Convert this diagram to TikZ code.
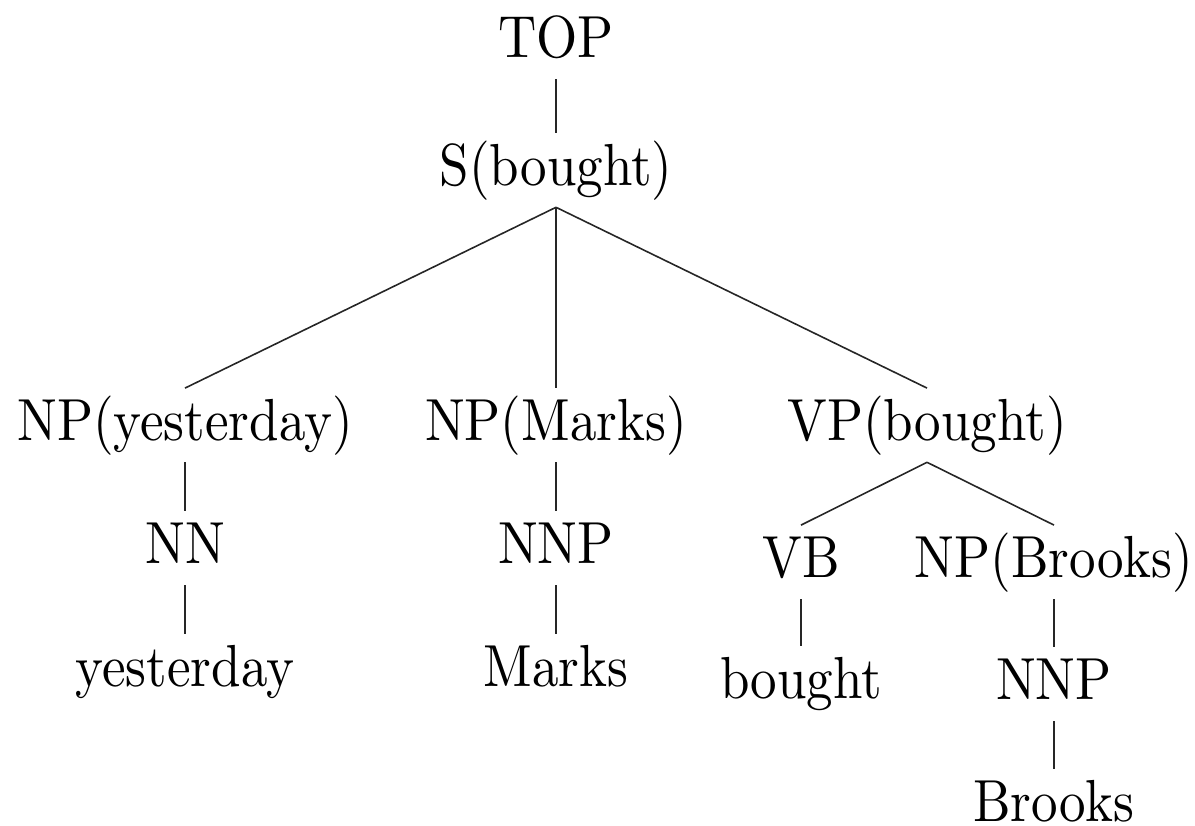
\documentclass[tikz,border=0pt]{standalone}
\usepackage{graphicx}
% tree labels are set slightly taller than wide
\newcommand{\tallabel}[1]{\scalebox{1}[1.12]{#1}}
\tikzset{
  lbl/.style={anchor=base, inner xsep=0pt, inner ysep=1.2pt,
              text height=8.4pt, text depth=2.8pt},
  branch/.style={draw=black!85, line width=0.3pt}
}
\begin{document}
\begin{tikzpicture}[x=0.18868pt, y=-0.18868pt]
\useasboundingbox (0,0) rectangle (1195,825);

% labels
\node[lbl] (top)   at (556,57)  {\tallabel{TOP}};
\node[lbl] (s)     at (556,185) {\tallabel{S(bought)}};
\node[lbl] (npy)   at (185,440) {\tallabel{NP(yesterday)}};
\node[lbl] (npm)   at (556,440) {\tallabel{NP(Marks)}};
\node[lbl] (vp)    at (927,440) {\tallabel{VP(bought)}};
\node[lbl] (nn)    at (185,563) {\tallabel{NN}};
\node[lbl] (nnpm)  at (556,563) {\tallabel{NNP}};
\node[lbl] (wy)    at (185,686) {\tallabel{yesterday}};
\node[lbl] (wm)    at (556,686) {\tallabel{Marks}};
\node[lbl] (vb)    at (801,577) {\tallabel{VB}};
\node[lbl] (npb)   at (1054,577){\tallabel{NP(Brooks)}};
\node[lbl] (wb)    at (801,698) {\tallabel{bought}};
\node[lbl] (nnpb)  at (1054,699){\tallabel{NNP}};
\node[lbl] (wbr)   at (1054,821){\tallabel{Brooks}};

% branches
\draw[branch] (top.south) -- (s.north);
\draw[branch] (s.south) -- (npy.north);
\draw[branch] (s.south) -- (npm.north);
\draw[branch] (s.south) -- (vp.north);
\draw[branch] (npy.south) -- (nn.north);
\draw[branch] (nn.south) -- (wy.north);
\draw[branch] (npm.south) -- (nnpm.north);
\draw[branch] (nnpm.south) -- (wm.north);
\draw[branch] (vp.south) -- (vb.north);
\draw[branch] (vp.south) -- (npb.north);
\draw[branch] (vb.south) -- (wb.north);
\draw[branch] (npb.south) -- (nnpb.north);
\draw[branch] (nnpb.south) -- (wbr.north);
\end{tikzpicture}
\end{document}
